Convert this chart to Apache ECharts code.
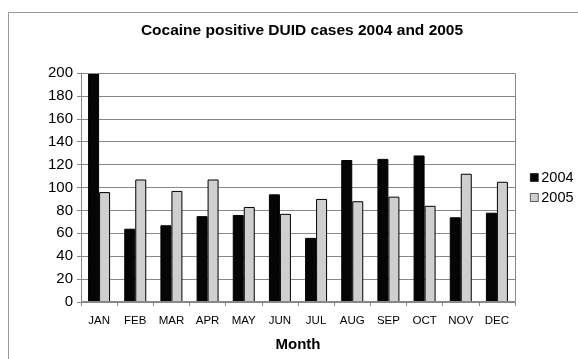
<!DOCTYPE html>
<html><head><meta charset="utf-8">
<script src="https://cdn.jsdelivr.net/npm/echarts@6/dist/echarts.min.js"></script>
<style>html,body{margin:0;padding:0;background:#fff}#c{width:578px;height:359px}</style>
</head><body><div id="c"></div>
<script>
const months = ['JAN','FEB','MAR','APR','MAY','JUN','JUL','AUG','SEP','OCT','NOV','DEC'];
const cases2004 = [200, 64, 67, 75, 76, 94, 56, 124, 125, 128, 74, 78];
const cases2005 = [96, 107, 97, 107, 83, 77, 90, 88, 92, 84, 112, 105];
const seriesNames = ['2004', '2005'];
const yTicks = [0, 20, 40, 60, 80, 100, 120, 140, 160, 180, 200];

const chart = echarts.init(document.getElementById('c'), null, {renderer: 'canvas'});
const font = 'Liberation Sans, Arial, sans-serif';
chart.setOption({
  animation: false,
  backgroundColor: '#fff',
  graphic: [
    {type: 'rect', shape: {x: 8.5, y: 12.5, width: 700, height: 500}, style: {fill: 'none', stroke: '#999', lineWidth: 1}, z: -10},
    {type: 'rect', shape: {x: 81.5, y: 73.5, width: 434, height: 228}, style: {fill: 'none', stroke: '#888', lineWidth: 1}, z: 5}
  ],
  title: {
    text: 'Cocaine positive DUID cases 2004 and 2005',
    left: 297, top: 18, textAlign: 'center',
    textStyle: {fontFamily: font, fontSize: 15.5, fontWeight: 'bold', color: '#000'}
  },
  legend: {
    orient: 'vertical', left: 525, top: 165, itemWidth: 8, itemHeight: 8, itemGap: 5,
    icon: 'rect',
    data: seriesNames,
    itemStyle: {borderColor: '#000', borderWidth: 0.6},
    textStyle: {fontFamily: font, fontSize: 14.5, color: '#000', padding: [0,0,0,-2]}
  },
  grid: {left: 81, right: 63, top: 73, bottom: 57, containLabel: false},
  xAxis: {
    type: 'category', data: months,
    name: 'Month', nameLocation: 'middle', nameGap: 35,
    nameTextStyle: {fontFamily: font, fontSize: 15, fontWeight: 'bold', color: '#000', verticalAlign: 'top'},
    axisLine: {lineStyle: {color: '#888'}},
    axisTick: {show: true, length: 4, lineStyle: {color: '#888'}},
    axisLabel: {fontFamily: font, fontSize: 11.5, color: '#000', margin: 13, interval: 0}
  },
  yAxis: {
    type: 'value', min: 0, max: 200, interval: 20,
    axisLine: {show: true, lineStyle: {color: '#888'}},
    axisTick: {show: true, length: 4, lineStyle: {color: '#888'}},
    axisLabel: {fontFamily: font, fontSize: 15, color: '#000', margin: 8,
      formatter: v => yTicks.includes(v) ? String(v) : ''},
    splitLine: {lineStyle: {color: '#888', width: 1}}
  },
  series: [
    {name: seriesNames[0], type: 'bar', data: cases2004, barWidth: 11, barGap: '0%',
      itemStyle: {color: '#050505', borderColor: '#000', borderWidth: 1}},
    {name: seriesNames[1], type: 'bar', data: cases2005, barWidth: 11,
      itemStyle: {color: '#cfcfcf', borderColor: '#000', borderWidth: 1}}
  ]
});
</script></body></html>
